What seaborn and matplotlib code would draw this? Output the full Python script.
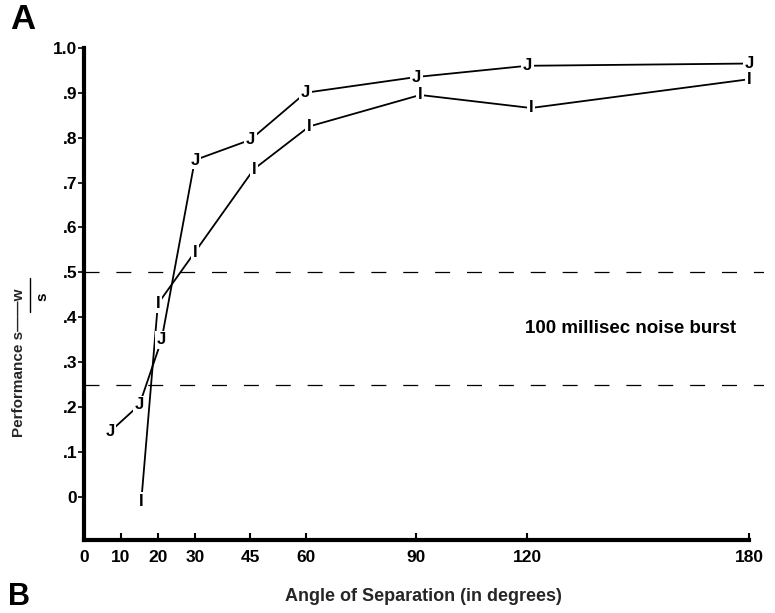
import matplotlib
matplotlib.use("Agg")
import matplotlib.pyplot as plt
from matplotlib.lines import Line2D
import seaborn as sns
import pandas as pd

# angles (deg) and performance
j_angle = [7, 15, 21, 30, 45, 60, 90, 120, 180]
j_perf = [0.145, 0.205, 0.35, 0.75, 0.795, 0.90, 0.935, 0.96, 0.965]
i_angle = [15.5, 20, 30, 46, 61, 91, 121, 180]
i_perf = [-0.01, 0.43, 0.545, 0.73, 0.825, 0.895, 0.866, 0.93]

chance_levels = [0.5, 0.25]
x_ticks = [0, 10, 20, 30, 45, 60, 90, 120, 180]
y_ticks = [0, 0.1, 0.2, 0.3, 0.4, 0.5, 0.6, 0.7, 0.8, 0.9, 1.0]
y_ticklabels = ["0", ".1", ".2", ".3", ".4", ".5", ".6", ".7", ".8", ".9", "1.0"]

df = pd.concat([
    pd.DataFrame({"angle": j_angle, "perf": j_perf, "series": "J"}),
    pd.DataFrame({"angle": i_angle, "perf": i_perf, "series": "I"}),
])

sns.set_style("white", {"axes.edgecolor": "black", "xtick.color": "black",
                        "ytick.color": "black", "text.color": "black"})
plt.rcParams["font.family"] = ["Liberation Sans", "DejaVu Sans"]
plt.rcParams["font.weight"] = "bold"

fig = plt.figure(figsize=(7.75, 6.13), dpi=100)
ax = fig.add_axes([0.1084, 0.119, 0.877, 0.803])

for lvl in chance_levels:
    ax.axhline(lvl, color="black", lw=0.9, dashes=(12, 13.5))

sns.lineplot(data=df, x="angle", y="perf", hue="series", palette=["black", "black"],
             sort=False, estimator=None, lw=1.3, legend=False, ax=ax)

# letter markers with a white box so the line breaks around them
for a, p, s in zip(df.angle, df.perf, df.series):
    ax.text(a, p, s, ha="center", va="center", fontsize=12, fontweight="bold",
            bbox=dict(facecolor="white", edgecolor="none", pad=1.2))

ax.text(148, 0.376, "100 millisec noise burst", ha="center", va="center",
        fontsize=13.5, fontweight="bold")

ax.set_xlim(0, 184)
ax.set_ylim(-0.096, 1.0)
ax.set_xticks(x_ticks)
ax.set_xticklabels([str(t) for t in x_ticks], fontsize=12.5, fontweight="bold")
ax.set_yticks(y_ticks)
ax.set_yticklabels(y_ticklabels, fontsize=12.5, fontweight="bold")
ax.tick_params(axis="x", bottom=True, direction="in", length=5, width=1.5, pad=7)
ax.tick_params(axis="y", left=True, direction="out", length=4, width=1.2, pad=1)

for side in ("top", "right"):
    ax.spines[side].set_visible(False)
ax.spines["left"].set_linewidth(3)
ax.spines["bottom"].set_linewidth(3)
ax.spines["bottom"].set_bounds(0, 180)
ax.spines["left"].set_bounds(-0.096, 1.0)

ax.set_xlabel("Angle of Separation (in degrees)", fontsize=13, fontweight="bold", labelpad=17)

# y label: "Performance s——w" over a short bar with "s" underneath
ax.set_ylabel("Performance s\u2014\u2014w", fontsize=11, fontweight="bold", va="center")
ax.yaxis.set_label_coords(-0.095, 0.36)
fig.add_artist(Line2D([30 / 775, 30 / 775], [1 - 278 / 613, 1 - 312 / 613],
                      color="black", lw=1.0))
fig.text(42 / 775, 1 - 297 / 613, "s", rotation=90, fontsize=11, fontweight="bold",
         ha="center", va="center")

fig.text(10 / 775, 1 - 3 / 613, "A", fontsize=25, fontweight="bold", ha="left", va="top")
fig.text(8 / 775, 1 / 613, "B", fontsize=22, fontweight="bold", ha="left", va="bottom")

fig.savefig("out.png", dpi=100)
